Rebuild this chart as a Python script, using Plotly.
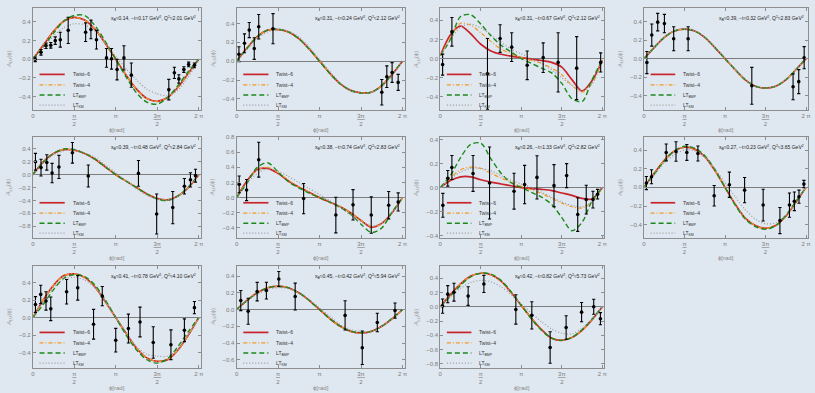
import plotly.graph_objects as go
import math

PI = math.pi

# ---------------- data ----------------
PHI_GRID = [0.0, 0.393, 0.785, 1.178, 1.571, 1.963, 2.356, 2.749, 3.142,
            3.534, 3.927, 4.320, 4.712, 5.105, 5.498, 5.890, 6.283]

PANEL_LABELS = [
    "x<sub>B</sub>≈0.14, −t≈0.17 GeV<sup>2</sup>, Q<sup>2</sup>≈2.01 GeV<sup>2</sup>",
    "x<sub>B</sub>≈0.31, −t≈0.24 GeV<sup>2</sup>, Q<sup>2</sup>≈2.12 GeV<sup>2</sup>",
    "x<sub>B</sub>≈0.31, −t≈0.67 GeV<sup>2</sup>, Q<sup>2</sup>≈2.12 GeV<sup>2</sup>",
    "x<sub>B</sub>≈0.39, −t≈0.32 GeV<sup>2</sup>, Q<sup>2</sup>≈2.83 GeV<sup>2</sup>",
    "x<sub>B</sub>≈0.39, −t≈0.48 GeV<sup>2</sup>, Q<sup>2</sup>≈2.84 GeV<sup>2</sup>",
    "x<sub>B</sub>≈0.38, −t≈0.74 GeV<sup>2</sup>, Q<sup>2</sup>≈2.83 GeV<sup>2</sup>",
    "x<sub>B</sub>≈0.26, −t≈1.33 GeV<sup>2</sup>, Q<sup>2</sup>≈2.82 GeV<sup>2</sup>",
    "x<sub>B</sub>≈0.27, −t≈0.23 GeV<sup>2</sup>, Q<sup>2</sup>≈3.65 GeV<sup>2</sup>",
    "x<sub>B</sub>≈0.41, −t≈0.78 GeV<sup>2</sup>, Q<sup>2</sup>≈4.10 GeV<sup>2</sup>",
    "x<sub>B</sub>≈0.45, −t≈0.42 GeV<sup>2</sup>, Q<sup>2</sup>≈5.94 GeV<sup>2</sup>",
    "x<sub>B</sub>≈0.42, −t≈0.82 GeV<sup>2</sup>, Q<sup>2</sup>≈5.73 GeV<sup>2</sup>",
]

SERIES_NAMES = ["Twist−6", "Twist−4", "LT<sub>BMP</sub>", "LT<sub>KM</sub>"]

X_TICKVALS = [0, PI / 2, PI, 3 * PI / 2, 2 * PI]
X_TICKTEXT = ["0", "<u>π</u><br>2", "π", "<u>3π</u><br>2", "2 π"]

# panel 1
P1_PHI = [0.09, 0.31, 0.50, 0.68, 0.85, 1.04, 1.34, 2.00, 2.20, 2.41, 2.79, 2.98, 3.19, 3.45, 3.73, 5.15, 5.36, 5.53, 5.72, 5.90, 6.12]
P1_A = [0.0, 0.075, 0.145, 0.15, 0.20, 0.21, 0.31, 0.29, 0.32, 0.21, 0.015, 0.005, -0.11, 0.015, -0.17, -0.325, -0.145, -0.21, -0.11, -0.055, -0.065]
P1_ERR = [0.025, 0.03, 0.03, 0.03, 0.04, 0.08, 0.14, 0.10, 0.10, 0.10, 0.10, 0.11, 0.11, 0.13, 0.13, 0.11, 0.06, 0.045, 0.03, 0.025, 0.025]
P1_TW6 = [0.0, 0.15, 0.30, 0.41, 0.45, 0.42, 0.32, 0.17, 0.0, -0.17, -0.32, -0.42, -0.45, -0.41, -0.30, -0.15, 0.0]
P1_TW4 = [0.0, 0.15, 0.30, 0.41, 0.45, 0.42, 0.32, 0.17, 0.0, -0.17, -0.32, -0.42, -0.45, -0.41, -0.30, -0.15, 0.0]
P1_BMP = [0.0, 0.13, 0.28, 0.41, 0.47, 0.47, 0.36, 0.19, 0.0, -0.19, -0.36, -0.46, -0.48, -0.41, -0.28, -0.13, 0.0]
P1_KM = [0.0, 0.12, 0.25, 0.34, 0.38, 0.37, 0.30, 0.18, 0.03, -0.10, -0.22, -0.32, -0.37, -0.39, -0.33, -0.19, 0.0]

# panel 2
P2_PHI = [0.09, 0.30, 0.48, 0.67, 0.84, 1.38, 5.50, 5.69, 5.89, 6.12]
P2_A = [0.074, 0.19, 0.33, 0.134, 0.365, 0.345, -0.33, -0.165, -0.12, -0.225]
P2_ERR = [0.08, 0.10, 0.08, 0.115, 0.13, 0.16, 0.135, 0.115, 0.105, 0.085]
P2_TW6 = [0.0, 0.14, 0.26, 0.33, 0.335, 0.31, 0.24, 0.13, 0.0, -0.13, -0.24, -0.31, -0.335, -0.33, -0.26, -0.14, 0.0]
P2_TW4 = [0.0, 0.14, 0.26, 0.33, 0.335, 0.31, 0.24, 0.13, 0.0, -0.13, -0.24, -0.31, -0.335, -0.33, -0.26, -0.14, 0.0]
P2_BMP = [0.0, 0.135, 0.26, 0.33, 0.34, 0.31, 0.24, 0.13, 0.0, -0.13, -0.24, -0.31, -0.34, -0.33, -0.26, -0.135, 0.0]
P2_KM = [0.0, 0.12, 0.24, 0.31, 0.335, 0.32, 0.26, 0.15, 0.02, -0.11, -0.23, -0.31, -0.34, -0.33, -0.27, -0.15, 0.0]

# panel 3
P3_PHI = [0.09, 0.45, 1.83, 2.32, 2.77, 3.37, 3.99, 4.57, 5.29, 6.22]
P3_A = [-0.063, 0.28, -0.16, 0.21, 0.12, -0.07, 0.01, -0.04, -0.10, -0.04]
P3_ERR = [0.11, 0.15, 0.37, 0.145, 0.15, 0.15, 0.155, 0.31, 0.33, 0.10]
P3_TW6 = [0.03, 0.25, 0.34, 0.26, 0.15, 0.08, 0.045, 0.025, 0.01, -0.005, -0.02, -0.04, -0.09, -0.22, -0.34, -0.23, -0.02]
P3_TW4 = [0.03, 0.22, 0.37, 0.35, 0.27, 0.18, 0.10, 0.05, 0.01, -0.02, -0.05, -0.10, -0.17, -0.28, -0.35, -0.26, -0.02]
P3_BMP = [0.03, 0.20, 0.44, 0.46, 0.36, 0.24, 0.14, 0.07, 0.0, -0.05, -0.10, -0.15, -0.26, -0.42, -0.45, -0.22, -0.01]
P3_KM = [0.03, 0.20, 0.33, 0.36, 0.32, 0.25, 0.17, 0.10, 0.05, 0.0, -0.05, -0.12, -0.20, -0.28, -0.33, -0.26, -0.02]

# panel 4
P4_PHI = [0.11, 0.30, 0.53, 0.79, 1.15, 1.71, 4.18, 5.78, 6.00, 6.21]
P4_A = [-0.043, 0.256, 0.396, 0.38, 0.216, 0.216, -0.295, -0.306, -0.25, 0.01]
P4_ERR = [0.12, 0.12, 0.095, 0.10, 0.13, 0.13, 0.20, 0.14, 0.13, 0.12]
P4_TW6 = [0.0, 0.12, 0.23, 0.30, 0.32, 0.30, 0.23, 0.12, 0.0, -0.12, -0.23, -0.30, -0.32, -0.30, -0.23, -0.12, 0.0]
P4_TW4 = [0.0, 0.12, 0.23, 0.30, 0.32, 0.30, 0.23, 0.12, 0.0, -0.12, -0.23, -0.30, -0.32, -0.30, -0.23, -0.12, 0.0]
P4_BMP = [0.0, 0.12, 0.23, 0.30, 0.32, 0.30, 0.23, 0.12, 0.0, -0.12, -0.23, -0.30, -0.32, -0.30, -0.23, -0.12, 0.0]
P4_KM = [0.0, 0.12, 0.23, 0.30, 0.32, 0.30, 0.23, 0.12, 0.0, -0.12, -0.23, -0.30, -0.32, -0.30, -0.23, -0.12, 0.0]

# panel 5
P5_PHI = [0.10, 0.31, 0.53, 0.73, 0.99, 1.50, 2.10, 4.00, 4.69, 5.30, 5.74, 5.97, 6.16]
P5_A = [0.20, 0.11, 0.19, 0.026, 0.12, 0.34, -0.02, 0.02, -0.61, -0.51, -0.18, -0.08, -0.015]
P5_ERR = [0.13, 0.13, 0.12, 0.15, 0.18, 0.16, 0.17, 0.20, 0.31, 0.25, 0.12, 0.11, 0.10]
P5_TW6 = [0.0, 0.20, 0.33, 0.39, 0.38, 0.33, 0.24, 0.12, 0.0, -0.10, -0.20, -0.30, -0.37, -0.39, -0.33, -0.20, 0.0]
P5_TW4 = [0.0, 0.20, 0.33, 0.39, 0.38, 0.33, 0.24, 0.12, 0.0, -0.10, -0.20, -0.30, -0.37, -0.39, -0.33, -0.20, 0.0]
P5_BMP = [0.0, 0.19, 0.33, 0.40, 0.39, 0.33, 0.24, 0.12, 0.0, -0.10, -0.20, -0.30, -0.38, -0.40, -0.33, -0.19, 0.0]
P5_KM = [0.0, 0.18, 0.31, 0.37, 0.38, 0.34, 0.27, 0.15, 0.03, -0.10, -0.22, -0.32, -0.38, -0.39, -0.33, -0.20, 0.0]

# panel 6
P6_PHI = [0.10, 0.38, 0.84, 2.54, 3.76, 4.41, 5.10, 5.76, 6.12]
P6_A = [0.175, 0.10, 0.50, -0.013, -0.23, -0.095, -0.23, -0.10, -0.057]
P6_ERR = [0.11, 0.14, 0.23, 0.20, 0.235, 0.20, 0.24, 0.18, 0.12]
P6_TW6 = [0.0, 0.22, 0.37, 0.385, 0.32, 0.22, 0.14, 0.07, 0.0, -0.06, -0.12, -0.20, -0.30, -0.39, -0.34, -0.20, 0.0]
P6_TW4 = [0.0, 0.21, 0.37, 0.40, 0.33, 0.23, 0.14, 0.07, 0.0, -0.06, -0.12, -0.20, -0.30, -0.38, -0.35, -0.20, 0.0]
P6_BMP = [0.0, 0.19, 0.40, 0.46, 0.34, 0.21, 0.13, 0.06, 0.0, -0.06, -0.13, -0.22, -0.35, -0.46, -0.40, -0.19, 0.0]
P6_KM = [0.0, 0.18, 0.32, 0.38, 0.35, 0.28, 0.20, 0.12, 0.04, -0.04, -0.13, -0.23, -0.32, -0.37, -0.34, -0.20, 0.0]

# panel 7
P7_PHI = [0.10, 0.29, 0.45, 1.27, 1.91, 2.86, 3.27, 3.75, 4.41, 4.90, 5.33, 5.66, 5.92, 6.10]
P7_A = [-0.148, 0.077, 0.167, 0.118, 0.038, -0.03, 0.025, 0.085, 0.016, 0.10, -0.225, -0.10, -0.10, -0.055]
P7_ERR = [0.10, 0.065, 0.10, 0.15, 0.30, 0.15, 0.16, 0.18, 0.175, 0.10, 0.14, 0.12, 0.07, 0.04]
P7_TW6 = [0.0, 0.058, 0.09, 0.09, 0.065, 0.045, 0.03, 0.015, 0.0, -0.008, -0.015, -0.025, -0.045, -0.065, -0.09, -0.095, 0.0]
P7_TW4 = [0.0, 0.08, 0.15, 0.17, 0.16, 0.12, 0.08, 0.045, 0.01, -0.02, -0.05, -0.09, -0.13, -0.16, -0.17, -0.12, 0.0]
P7_BMP = [0.0, 0.10, 0.25, 0.36, 0.37, 0.24, 0.12, 0.04, 0.0, -0.04, -0.08, -0.14, -0.25, -0.36, -0.29, -0.11, 0.0]
P7_KM = [0.0, 0.07, 0.13, 0.16, 0.16, 0.14, 0.10, 0.06, 0.03, 0.0, -0.04, -0.08, -0.12, -0.15, -0.16, -0.12, 0.0]

# panel 8
P8_PHI = [0.09, 0.29, 0.86, 1.24, 1.66, 2.09, 2.72, 3.31, 3.90, 4.62, 5.27, 5.64, 5.83, 6.01, 6.20]
P8_A = [0.046, 0.114, 0.374, 0.384, 0.374, 0.363, -0.09, 0.028, -0.03, -0.19, -0.356, -0.19, -0.15, -0.10, 0.035]
P8_ERR = [0.07, 0.075, 0.09, 0.105, 0.085, 0.08, 0.11, 0.135, 0.135, 0.17, 0.14, 0.13, 0.10, 0.07, 0.04]
P8_TW6 = [0.0, 0.15, 0.29, 0.39, 0.43, 0.41, 0.33, 0.18, 0.0, -0.18, -0.33, -0.41, -0.44, -0.41, -0.31, -0.16, 0.0]
P8_TW4 = [0.0, 0.15, 0.29, 0.39, 0.43, 0.41, 0.33, 0.18, 0.0, -0.18, -0.33, -0.41, -0.44, -0.41, -0.31, -0.16, 0.0]
P8_BMP = [0.0, 0.14, 0.28, 0.39, 0.44, 0.42, 0.34, 0.19, 0.0, -0.19, -0.34, -0.42, -0.45, -0.41, -0.30, -0.15, 0.0]
P8_KM = [0.0, 0.13, 0.26, 0.35, 0.40, 0.39, 0.32, 0.20, 0.05, -0.10, -0.24, -0.34, -0.39, -0.38, -0.30, -0.16, 0.0]

# panel 9
P9_PHI = [0.10, 0.30, 0.50, 0.68, 1.28, 1.70, 2.30, 2.63, 3.14, 3.62, 4.06, 4.56, 5.23, 5.74, 6.12]
P9_A = [0.15, 0.265, 0.19, 0.10, 0.295, 0.34, -0.076, 0.246, -0.258, -0.125, -0.05, -0.284, -0.31, -0.144, 0.114]
P9_ERR = [0.09, 0.105, 0.105, 0.135, 0.14, 0.14, 0.17, 0.11, 0.135, 0.165, 0.17, 0.18, 0.17, 0.13, 0.07]
P9_TW6 = [0.0, 0.20, 0.37, 0.48, 0.50, 0.46, 0.35, 0.18, 0.0, -0.18, -0.35, -0.46, -0.50, -0.48, -0.37, -0.20, 0.0]
P9_TW4 = [0.0, 0.20, 0.37, 0.48, 0.50, 0.46, 0.35, 0.18, 0.0, -0.18, -0.35, -0.46, -0.50, -0.48, -0.37, -0.20, 0.0]
P9_BMP = [0.0, 0.15, 0.32, 0.45, 0.49, 0.47, 0.37, 0.20, 0.0, -0.20, -0.37, -0.48, -0.52, -0.47, -0.33, -0.16, 0.0]
P9_KM = [0.0, 0.18, 0.34, 0.44, 0.46, 0.43, 0.34, 0.18, 0.0, -0.17, -0.33, -0.42, -0.44, -0.44, -0.36, -0.20, 0.0]

# panel 10
P10_PHI = [0.16, 0.44, 0.78, 1.13, 1.60, 2.22, 4.11, 4.76, 5.33, 6.00]
P10_A = [0.107, -0.02, 0.214, 0.226, 0.365, 0.155, -0.07, -0.456, -0.155, -0.012]
P10_ERR = [0.12, 0.155, 0.11, 0.10, 0.09, 0.16, 0.175, 0.20, 0.11, 0.09]
P10_TW6 = [0.0, 0.11, 0.20, 0.26, 0.28, 0.26, 0.20, 0.11, 0.0, -0.11, -0.20, -0.26, -0.28, -0.26, -0.20, -0.11, 0.0]
P10_TW4 = [0.0, 0.11, 0.20, 0.26, 0.28, 0.26, 0.20, 0.11, 0.0, -0.11, -0.20, -0.26, -0.28, -0.26, -0.20, -0.11, 0.0]
P10_BMP = [0.0, 0.105, 0.20, 0.26, 0.275, 0.26, 0.20, 0.11, 0.0, -0.11, -0.20, -0.26, -0.275, -0.26, -0.20, -0.105, 0.0]
P10_KM = [0.0, 0.10, 0.18, 0.24, 0.26, 0.25, 0.20, 0.12, 0.02, -0.08, -0.18, -0.24, -0.26, -0.26, -0.20, -0.11, 0.0]

# panel 11
P11_PHI = [0.09, 0.29, 0.53, 1.08, 1.69, 2.93, 3.55, 4.26, 4.88, 5.48, 5.95, 6.21]
P11_A = [0.01, 0.177, 0.205, 0.15, 0.32, -0.037, -0.12, -0.57, -0.29, -0.075, 0.0, -0.167]
P11_ERR = [0.10, 0.12, 0.125, 0.13, 0.12, 0.205, 0.19, 0.22, 0.165, 0.135, 0.105, 0.085]
P11_TW6 = [0.0, 0.17, 0.32, 0.43, 0.47, 0.45, 0.36, 0.20, 0.02, -0.16, -0.32, -0.44, -0.47, -0.43, -0.33, -0.18, 0.0]
P11_TW4 = [0.0, 0.17, 0.32, 0.43, 0.47, 0.45, 0.36, 0.20, 0.02, -0.16, -0.32, -0.44, -0.47, -0.43, -0.33, -0.18, 0.0]
P11_BMP = [0.0, 0.15, 0.30, 0.42, 0.47, 0.46, 0.37, 0.21, 0.02, -0.17, -0.33, -0.44, -0.47, -0.43, -0.32, -0.17, 0.0]
P11_KM = [0.0, 0.14, 0.26, 0.34, 0.37, 0.35, 0.28, 0.17, 0.04, -0.09, -0.21, -0.31, -0.37, -0.38, -0.30, -0.17, 0.0]

PANELS = [
    (P1_PHI, P1_A, P1_ERR, [P1_TW6, P1_TW4, P1_BMP, P1_KM]),
    (P2_PHI, P2_A, P2_ERR, [P2_TW6, P2_TW4, P2_BMP, P2_KM]),
    (P3_PHI, P3_A, P3_ERR, [P3_TW6, P3_TW4, P3_BMP, P3_KM]),
    (P4_PHI, P4_A, P4_ERR, [P4_TW6, P4_TW4, P4_BMP, P4_KM]),
    (P5_PHI, P5_A, P5_ERR, [P5_TW6, P5_TW4, P5_BMP, P5_KM]),
    (P6_PHI, P6_A, P6_ERR, [P6_TW6, P6_TW4, P6_BMP, P6_KM]),
    (P7_PHI, P7_A, P7_ERR, [P7_TW6, P7_TW4, P7_BMP, P7_KM]),
    (P8_PHI, P8_A, P8_ERR, [P8_TW6, P8_TW4, P8_BMP, P8_KM]),
    (P9_PHI, P9_A, P9_ERR, [P9_TW6, P9_TW4, P9_BMP, P9_KM]),
    (P10_PHI, P10_A, P10_ERR, [P10_TW6, P10_TW4, P10_BMP, P10_KM]),
    (P11_PHI, P11_A, P11_ERR, [P11_TW6, P11_TW4, P11_BMP, P11_KM]),
]

# ---------------- styling / layout ----------------
W, H = 815, 393
BG = "#dfe7f0"
FRAME = "#8e8e8e"
TICKFONT_COLOR = "#7c7c7c"
FONT = "Liberation Sans"

Y_RANGES = [(-0.545, 0.55), (-0.52, 0.565), (-0.54, 0.53), (-0.56, 0.55),
            (-0.985, 0.585), (-0.535, 0.80), (-0.422, 0.422), (-0.545, 0.54),
            (-0.578, 0.59), (-0.70, 0.52), (-0.86, 0.572)]
X_RANGE = (0.0, 6.36)

COL_PX = [(31, 200), (236, 405), (441, 606), (646, 811)]
ROW_PX = [(5, 108), (135, 237), (265, 368)]

STYLES = [
    dict(color="#c8242b", width=1.7, dash="solid"),
    dict(color="#f59a23", width=1.2, dash="4px,2px,1px,2px"),
    dict(color="#1a8a1a", width=1.4, dash="5px,3px"),
    dict(color="#9a9a9a", width=1.2, dash="1px,2px"),
]
LEG_Y = [0.35, 0.248, 0.148, 0.05]

fig = go.Figure()
shapes = []
annotations = []

for i, (phi, a, err, curves) in enumerate(PANELS):
    n = i + 1
    r, c = divmod(i, 4)
    sfx = "" if n == 1 else str(n)
    xa, ya = "x" + sfx, "y" + sfx
    x0p, x1p = COL_PX[c]
    y0p, y1p = ROW_PX[r]

    for curve, st, name in zip(curves, STYLES, SERIES_NAMES):
        fig.add_trace(go.Scatter(
            x=PHI_GRID, y=curve, mode="lines", name=name,
            line=dict(color=st["color"], width=st["width"], dash=st["dash"],
                      shape="spline", smoothing=0.85),
            xaxis=xa, yaxis=ya, hoverinfo="skip", showlegend=False))

    fig.add_trace(go.Scatter(
        x=phi, y=a, mode="markers",
        marker=dict(color="black", size=3.6),
        error_y=dict(type="data", array=err, color="black", thickness=1.1, width=1.6),
        xaxis=xa, yaxis=ya, showlegend=False))

    axis_common = dict(showgrid=False, showline=True, linecolor=FRAME, linewidth=1,
                       mirror="ticks", ticks="inside", ticklen=3, tickwidth=0.7,
                       tickcolor=FRAME, tickfont=dict(family=FONT, size=6, color=TICKFONT_COLOR))
    fig.layout["xaxis" + sfx] = dict(
        domain=[x0p / W, x1p / W], anchor=ya, range=list(X_RANGE),
        tickvals=X_TICKVALS, ticktext=X_TICKTEXT, zeroline=False, **axis_common)
    fig.layout["yaxis" + sfx] = dict(
        domain=[1 - y1p / H, 1 - y0p / H], anchor=xa, range=list(Y_RANGES[i]),
        dtick=0.2, tick0=0, tickformat=".1f", zeroline=True,
        zerolinecolor="#7d7d7d", zerolinewidth=1.2, **axis_common)

    # panel kinematics label
    annotations.append(dict(
        text=PANEL_LABELS[i], xref=xa + " domain", yref=ya + " domain",
        x=0.985, y=1 - 10.5 / (y1p - y0p), xanchor="right", yanchor="middle",
        showarrow=False, font=dict(family=FONT, size=5, color="#222")))

    # legend (drawn inside each panel)
    for k, (st, name) in enumerate(zip(STYLES, SERIES_NAMES)):
        shapes.append(dict(
            type="line", xref=xa + " domain", yref=ya + " domain",
            x0=0.04, x1=0.19, y0=LEG_Y[k], y1=LEG_Y[k],
            line=dict(color=st["color"], width=st["width"], dash=st["dash"])))
        annotations.append(dict(
            text=name, xref=xa + " domain", yref=ya + " domain",
            x=0.225, y=LEG_Y[k], xanchor="left", yanchor="middle",
            showarrow=False, font=dict(family=FONT, size=5, color="#333")))

    # axis titles
    annotations.append(dict(
        text="ϕ[rad]", xref="paper", yref="paper",
        x=(x0p + x1p) / 2 / W, y=1 - (y1p + 20) / H,
        xanchor="center", yanchor="middle", showarrow=False,
        font=dict(family=FONT, size=6, color="#8a8a8a")))
    annotations.append(dict(
        text="<i>A</i><sub>LU</sub>(ϕ)", xref="paper", yref="paper",
        x=(x0p - 24) / W, y=1 - (y0p + y1p) / 2 / H, textangle=-90,
        xanchor="center", yanchor="middle", showarrow=False,
        font=dict(family=FONT, size=6, color="#9a9a9a")))

fig.update_layout(
    width=W, height=H, margin=dict(l=0, r=0, t=0, b=0),
    paper_bgcolor=BG, plot_bgcolor=BG, showlegend=False,
    font=dict(family=FONT), shapes=shapes, annotations=annotations)

fig.write_html(
    "out.html",
    config={"displayModeBar": False},
    post_script="document.body.style.margin='0px';document.body.style.overflow='hidden';document.body.style.background='" + BG + "';")
